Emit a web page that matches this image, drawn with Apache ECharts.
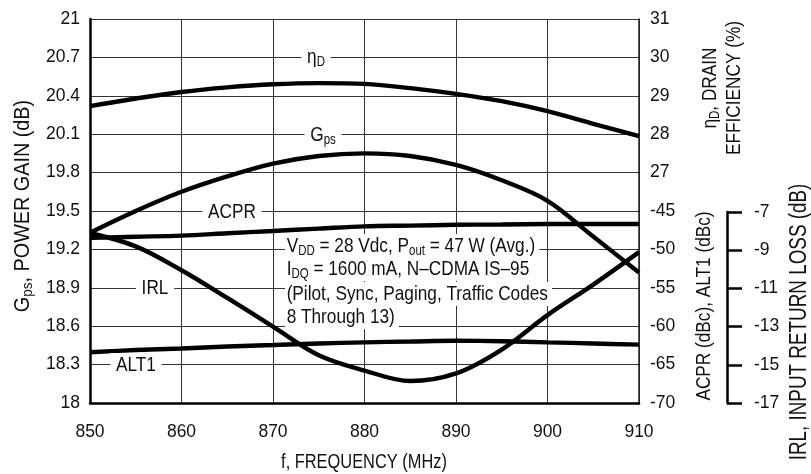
<!DOCTYPE html>
<html><head><meta charset="utf-8">
<script src="https://cdn.jsdelivr.net/npm/echarts@6/dist/echarts.min.js"></script>
<style>html,body{margin:0;padding:0;background:#fff}#c{width:811px;height:474px}</style>
</head><body><div id="c"></div>
<script>
// ---- data ----
const freq = [850, 855, 860, 865, 870, 875, 880, 885, 890, 895, 900, 905, 910];
const gps  = [19.33, 19.50, 19.65, 19.77, 19.87, 19.93, 19.95, 19.93, 19.86, 19.74, 19.58, 19.30, 19.02];
const etaD = [28.73, 28.93, 29.10, 29.22, 29.30, 29.33, 29.31, 29.20, 29.05, 28.86, 28.60, 28.27, 27.95];
const acpr = [-48.5, -48.35, -48.2, -47.9, -47.6, -47.3, -47.0, -46.9, -46.8, -46.75, -46.7, -46.7, -46.7];
const alt1 = [-63.4, -63.1, -62.9, -62.65, -62.45, -62.25, -62.1, -62.0, -61.9, -61.95, -62.1, -62.25, -62.4];
const irl  = [-8.1, -8.8, -10.05, -11.5, -13.0, -14.5, -15.3, -15.85, -15.45, -14.2, -12.4, -10.8, -9.1];
const xTicks = [850, 860, 870, 880, 890, 900, 910];

const FONT = "'Liberation Sans', Arial, sans-serif";
const FS = 21;        // annotation text size (drawn horizontally condensed)
const AFS = 17.5;     // axis tick label size
const pairs = arr => freq.map((f, i) => [f, arr[i]]);
const chart = echarts.init(document.getElementById('c'), null, {renderer: 'canvas'});

function mkRich(size) {
  return {
    m: {fontFamily: FONT, fontSize: size, lineHeight: 24, color: '#111'},
    s: {fontFamily: FONT, fontSize: Math.round(size * 0.66), lineHeight: 14, verticalAlign: 'bottom', color: '#111'}
  };
}
function txt(text, x, y, opt) {
  opt = opt || {};
  const size = opt.size || FS;
  const sc = opt.sc || 0.82;
  return {
    type: 'text', x: x, y: y, rotation: opt.rot || 0, scaleX: sc, scaleY: 1, z: 50,
    style: Object.assign({
      text: text, rich: mkRich(size), fill: '#111', font: size + 'px ' + FONT,
      align: opt.align || 'center', verticalAlign: 'middle'
    }, opt.bg ? {backgroundColor: '#fff', padding: opt.pad || [0, 7]} : {})
  };
}
const lineSeries = (name, data, xi, yi) => ({
  name: name, type: 'line', xAxisIndex: xi, yAxisIndex: yi, data: data,
  smooth: 0.35, symbol: 'none', lineStyle: {color: '#000', width: 4.4}, z: 10, animation: false
});
const gridLine = {show: true, lineStyle: {color: '#333', width: 1}};
const lbl = {color: '#111', fontFamily: FONT, fontSize: AFS};

chart.setOption({
  animation: false,
  grid: [
    {left: 90, top: 19, width: 549, height: 384},
    {left: 90, top: 212, width: 549, height: 191}
  ],
  xAxis: [
    {type: 'value', gridIndex: 0, min: 850, max: 910, interval: 10,
     axisLine: {show: true, lineStyle: {color: '#000', width: 2.5}},
     axisTick: {show: false},
     axisLabel: Object.assign({margin: 20, formatter: v => xTicks.indexOf(v) >= 0 ? String(v) : ''}, lbl),
     splitLine: gridLine},
    {type: 'value', gridIndex: 1, min: 850, max: 910, interval: 10, axisLine: {show: false}, axisTick: {show: false}, axisLabel: {show: false}, splitLine: {show: false}}
  ],
  yAxis: [
    {type: 'value', gridIndex: 0, position: 'left', min: 18, max: 21, interval: 0.3,
     axisLine: {show: true, lineStyle: {color: '#000', width: 2.5}},
     axisTick: {show: false},
     axisLabel: Object.assign({margin: 10,
       formatter: v => { const r = Math.round(v * 10) / 10; return Number.isInteger(r) ? String(r) : r.toFixed(1); }}, lbl),
     splitLine: gridLine},
    {type: 'value', gridIndex: 0, position: 'right', min: 21, max: 31, interval: 1,
     axisLine: {show: true, lineStyle: {color: '#222', width: 1.5}},
     axisTick: {show: false}, splitLine: {show: false},
     axisLabel: Object.assign({margin: 11, formatter: v => Math.round(v) >= 27 ? String(Math.round(v)) : ''}, lbl)},
    {type: 'value', gridIndex: 0, position: 'right', min: -70, max: -20, interval: 5,
     axisLine: {show: false}, axisTick: {show: false}, splitLine: {show: false},
     axisLabel: Object.assign({margin: 11, formatter: v => Math.round(v) <= -45 ? String(Math.round(v)) : ''}, lbl)},
    {type: 'value', gridIndex: 1, position: 'right', offset: 88, min: -17, max: -7, interval: 2,
     axisLine: {show: true, lineStyle: {color: '#000', width: 2.5}},
     axisTick: {show: true, inside: false, length: 15, lineStyle: {color: '#000', width: 2.5}},
     splitLine: {show: false},
     axisLabel: Object.assign({margin: 27}, lbl)}
  ],
  series: [
    lineSeries('ηD', pairs(etaD), 0, 1),
    lineSeries('Gps', pairs(gps), 0, 0),
    lineSeries('ACPR', pairs(acpr), 0, 2),
    lineSeries('ALT1', pairs(alt1), 0, 2),
    lineSeries('IRL', pairs(irl), 1, 3)
  ],
  graphic: [
    txt('{m|G}{s|ps}{m|, POWER GAIN (dB)}', 23, 206, {rot: Math.PI / 2, size: 22, sc: 0.9}),
    txt('{m|η}{s|D}{m|, DRAIN}\n{m|EFFICIENCY (%)}', 722, 88, {rot: Math.PI / 2}),
    txt('{m|ACPR (dBc), ALT1 (dBc)}', 704, 306, {rot: Math.PI / 2}),
    txt('{m|IRL, INPUT RETURN LOSS (dB)}', 800, 322, {rot: Math.PI / 2, size: 23}),
    txt('{m|f, FREQUENCY (MHz)}', 364, 462, {size: 20}),
    txt('{m|η}{s|D}', 316, 57, {bg: true}),
    txt('{m|G}{s|ps}', 323, 135, {bg: true}),
    txt('{m|ACPR}', 232, 212, {bg: true}),
    txt('{m|IRL}', 155, 288, {bg: true}),
    txt('{m|ALT1}', 136, 365, {bg: true}),
    txt('{m|V}{s|DD}{m| = 28 Vdc, P}{s|out}{m| = 47 W (Avg.)}', 285, 246, {bg: true, align: 'left', pad: [0, 5, 0, 2]}),
    txt('{m|I}{s|DQ}{m| = 1600 mA, N–CDMA IS–95}', 285, 269, {bg: true, align: 'left', pad: [0, 5, 0, 2]}),
    txt('{m|(Pilot, Sync, Paging, Traffic Codes}', 285, 294, {bg: true, align: 'left', pad: [0, 5, 0, 2]}),
    txt('{m|8 Through 13)}', 285, 317, {bg: true, align: 'left', pad: [0, 5, 0, 2]})
  ]
});
</script></body></html>
